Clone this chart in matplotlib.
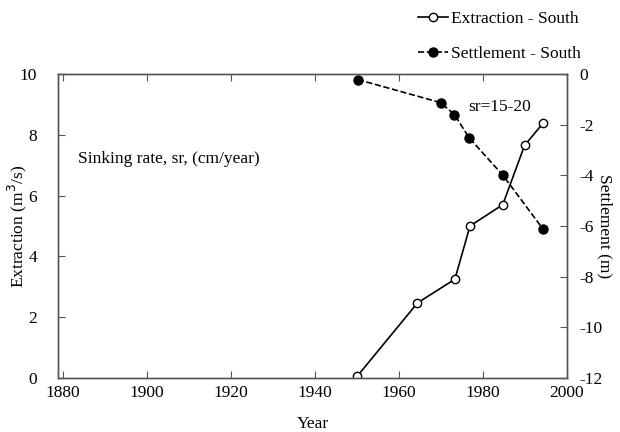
import matplotlib
matplotlib.use("Agg")
import matplotlib.pyplot as plt

years_ext = [1950, 1964.4, 1973.3, 1976.9, 1984.7, 1989.9, 1994.4]
extraction = [0.05, 2.47, 3.25, 5.0, 5.7, 7.65, 8.4]
years_set = [1950.2, 1969.9, 1973.2, 1976.7, 1984.7, 1994.2]
settlement = [-0.22, -1.13, -1.6, -2.52, -3.99, -6.1]
xticks = [1880, 1900, 1920, 1940, 1960, 1980, 2000]

plt.rcParams['font.family'] = ['Liberation Serif', 'DejaVu Serif']
plt.rcParams['axes.unicode_minus'] = False
fig = plt.figure(figsize=(6.2, 4.32), dpi=100)
ax = fig.add_axes([58/620, 1-378/432, (567-58)/620, (378-74)/432])
ax2 = ax.twinx()

l1, = ax.plot(years_ext, extraction, '-', color='black', lw=1.2, marker='o',
              mfc='white', mec='black', ms=6, mew=1.0, label='Extraction - South')
l2, = ax2.plot(years_set, settlement, '--', color='black', lw=1.2, marker='o',
               mfc='black', mec='black', ms=6.5, label='Settlement - South')

ax.set_xlim(1878.8, 2000)
ax.set_ylim(0, 10)
ax2.set_ylim(-12, 0)
ax.set_xticks(xticks)
ax.set_yticks([0, 2, 4, 6, 8, 10])
ax2.set_yticks([-12, -10, -8, -6, -4, -2, 0])

for a in (ax, ax2):
    for s in a.spines.values():
        s.set_color('#555555')
        s.set_linewidth(1.0)
ax.tick_params(axis='both', direction='in', labelsize=12.5, length=5, color='#555555', top=True)
ax.tick_params(axis='x', pad=5)
ax.tick_params(axis='y', pad=15)
ax2.tick_params(axis='y', direction='in', labelsize=12.5, length=5, color='#555555', pad=9)

ax.set_xlabel('Year', fontsize=12.5, labelpad=11)
ax.set_ylabel('Extraction (m$^3$/s)', fontsize=12.5, va='center')
ax.yaxis.set_label_coords(-41/509, 0.5)
ax2.set_ylabel('Settlement (m)', fontsize=12.5, rotation=-90, va='center')
ax2.yaxis.set_label_coords(1 + 38/509, 0.5)

ax.text(1883.5, 7.2, 'Sinking rate, sr, (cm/year)', fontsize=12.5, va='center')
ax.text(1976.5, 8.9, 'sr=15-20', fontsize=12.5, va='center')

fig.legend(handles=[l1, l2], loc='upper right', bbox_to_anchor=(592/620, 1.0),
           frameon=False, fontsize=12.5, handlelength=1.75, handletextpad=0.15,
           labelspacing=1.05, borderaxespad=0.25)

fig.savefig('out.png', dpi=100)
